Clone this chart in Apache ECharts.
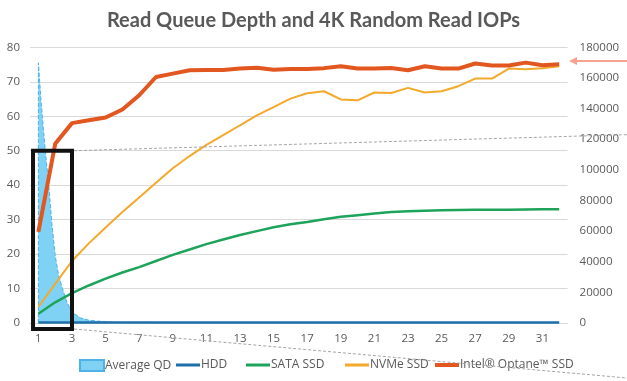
<!DOCTYPE html>
<html><head><meta charset="utf-8">
<script src="https://cdn.jsdelivr.net/npm/echarts@6/dist/echarts.min.js"></script>
<style>html,body{margin:0;padding:0;background:#fff}#c{width:627px;height:381px}</style>
</head><body><div id="c"></div>
<script>
// ---- data ----
const categories = ['1','2','3','4','5','6','7','8','9','10','11','12','13','14','15','16',
  '17','18','19','20','21','22','23','24','25','26','27','28','29','30','31','32'];
const leftTicks = [0,10,20,30,40,50,60,70,80];
const rightTicks = [0,20000,40000,60000,80000,100000,120000,140000,160000,180000];

// Average QD (left axis), sampled along queue depth
const qdDepth = [1, 1, 1.15, 1.3, 1.45, 1.6, 1.8, 2, 2.2, 2.4, 2.7, 3, 3.5, 4, 5, 6, 8, 10, 32];
const qdValue = [0, 75.5, 65, 56, 48, 41, 29, 19.5, 14, 10.5, 6, 3.2, 1.5, 0.8, 0.35, 0.15, 0.05, 0, 0];

// IOPs (right axis)
const hdd = [250,280,300,300,310,310,320,320,320,330,330,330,330,330,330,330,
  330,330,330,330,330,330,330,330,330,330,330,330,330,330,330,330];
const sata = [6000,13500,19500,24500,29000,33000,36500,40500,44500,48000,51500,54500,57500,60000,62500,64500,
  66000,67800,69300,70400,71500,72400,73000,73300,73600,73800,73900,74000,74000,74100,74200,74300];
const nvme = [10600,25500,40500,52000,62400,72500,82000,91500,101000,109000,116300,122600,129100,135500,141000,146500,
  150000,151300,146000,145400,150500,150200,153500,150500,151300,154600,159600,159600,166100,165700,166300,167600];
const optane = [59500,117000,130500,132400,134200,139400,148700,160600,162800,165000,165200,165200,166100,166700,165400,165900,
  165800,166400,167600,166100,166100,166500,165000,167600,166100,166100,169400,168100,168100,170000,168300,168900];

const seriesNames = ['Average QD','HDD','SATA SSD','NVMe SSD','Intel® Optane™ SSD'];

// ---- chart ----
const txt = '#595959';
const font = '"Open Sans", sans-serif';
const chart = echarts.init(document.getElementById('c'), null, {renderer:'canvas'});

const legendLefts = [74, 171, 241, 340, 430];
const legendHeights = [11, 3, 3, 3, 4];
const legends = seriesNames.map((n, i) => ({
  data: [n], left: legendLefts[i], top: 354, itemWidth: 24, itemHeight: legendHeights[i],
  icon: 'rect', itemGap: 0,
  textStyle: {color: txt, fontSize: 12, fontFamily: font, padding: [0,0,0,-4]}
}));

chart.setOption({
  animation: false,
  backgroundColor: '#fff',
  title: {
    text: 'Read Queue Depth and 4K Random Read IOPs',
    left: 'center', top: 6,
    textStyle: {color: txt, fontSize: 20, fontWeight: 'bold', fontFamily: 'Lato, sans-serif'}
  },
  legend: legends,
  grid: {left: 30, right: 59.4, top: 47.3, bottom: 58, containLabel: false},
  xAxis: [
    {type: 'category', data: categories, boundaryGap: true,
     axisLine: {show: true, lineStyle: {color: '#d9d9d9'}}, axisTick: {show: false},
     axisLabel: {interval: 1, color: txt, fontSize: 11.5, fontFamily: font, margin: 10}},
    {type: 'value', min: 0.5, max: 32.5, show: false}
  ],
  yAxis: [
    {type: 'value', min: leftTicks[0], max: leftTicks[leftTicks.length-1], interval: leftTicks[1]-leftTicks[0],
     axisLine: {show: false}, axisTick: {show: false},
     axisLabel: {color: txt, fontSize: 11.5, fontFamily: font, margin: 10},
     splitLine: {lineStyle: {color: '#d9d9d9', width: 1}}},
    {type: 'value', position: 'right', min: rightTicks[0], max: rightTicks[rightTicks.length-1], interval: rightTicks[1]-rightTicks[0],
     axisLine: {show: false}, axisTick: {show: false},
     axisLabel: {color: txt, fontSize: 11.5, fontFamily: font, margin: 12, formatter: v => String(v)},
     splitLine: {show: false}}
  ],
  series: [
    {name: seriesNames[0], type: 'line', xAxisIndex: 1, yAxisIndex: 0,
     data: qdDepth.map((d, i) => [d, qdValue[i]]), symbol: 'none', smooth: false,
     lineStyle: {color: '#4fb1e6', width: 1, type: 'dashed'},
     itemStyle: {color: '#7fd2f4', borderColor: '#4fb1e6', borderType: 'dashed', borderWidth: 1},
     areaStyle: {color: '#7fd2f4', opacity: 1}, z: 1},
    {name: seriesNames[1], type: 'line', xAxisIndex: 0, yAxisIndex: 1, data: hdd, symbol: 'none',
     lineStyle: {color: '#1f6fab', width: 2.5}, itemStyle: {color: '#1f6fab'}, z: 2},
    {name: seriesNames[2], type: 'line', xAxisIndex: 0, yAxisIndex: 1, data: sata, symbol: 'none',
     lineStyle: {color: '#1ea35a', width: 2.5}, itemStyle: {color: '#1ea35a'}, z: 3},
    {name: seriesNames[3], type: 'line', xAxisIndex: 0, yAxisIndex: 1, data: nvme, symbol: 'none',
     lineStyle: {color: '#f4a92a', width: 2}, itemStyle: {color: '#f4a92a'}, z: 4},
    {name: seriesNames[4], type: 'line', xAxisIndex: 0, yAxisIndex: 1, data: optane, symbol: 'none',
     lineStyle: {color: '#e2561f', width: 4}, itemStyle: {color: '#e2561f'}, z: 5}
  ]
});

// ---- annotations (highlight box, zoom guides, arrow) ----
const px = u => chart.convertToPixel({xAxisIndex: 1}, u);
const pyL = v => chart.convertToPixel({yAxisIndex: 0}, v);
const pyR = v => chart.convertToPixel({yAxisIndex: 1}, v);
const W = chart.getWidth(), H = chart.getHeight();
const bx0 = px(0.68), bx1 = px(3.0), by0 = pyL(50), by1 = pyL(0) + 6;
const arrowY = pyR(171000);
chart.setOption({
  graphic: [
    {type: 'line', z: 100, shape: {x1: bx1 + 2, y1: by0, x2: W, y2: by0 - 16},
     style: {stroke: '#a6a6a6', lineWidth: 1, lineDash: [3, 2]}},
    {type: 'line', z: 100, shape: {x1: bx1 + 2, y1: by1, x2: W, y2: H - 3},
     style: {stroke: '#a6a6a6', lineWidth: 1, lineDash: [3, 2]}},
    {type: 'rect', z: 101, shape: {x: bx0, y: by0, width: bx1 - bx0, height: by1 - by0},
     style: {fill: null, stroke: '#111', lineWidth: 4}},
    {type: 'line', z: 100, shape: {x1: W, y1: arrowY, x2: W - 52, y2: arrowY},
     style: {stroke: '#f4a48e', lineWidth: 2}},
    {type: 'polygon', z: 100, shape: {points: [[W - 58, arrowY], [W - 50, arrowY - 4], [W - 50, arrowY + 4]]},
     style: {fill: '#f4a48e'}}
  ]
});
</script>
</body></html>
